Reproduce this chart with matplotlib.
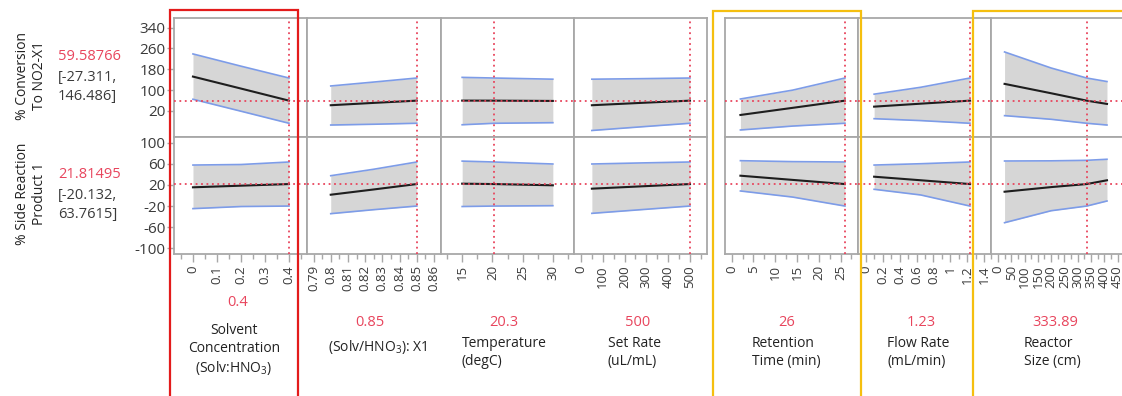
import matplotlib.pyplot as plt
from matplotlib.patches import Rectangle
from matplotlib.ticker import FixedLocator, MultipleLocator


W, H = 1122, 396

RED = '#e8455d'
DARK = '#3a3a3a'
GRID = '#a8a8a8'
BAND = '#d6d6d6'
BLUE = '#7d9ce8'

factor_labels = ['Solvent\nConcentration\n(Solv:HNO$_\\mathregular{3}$)',
                 '(Solv/HNO$_\\mathregular{3}$): X1',
                 'Temperature\n(degC)',
                 'Set Rate\n(uL/mL)',
                 'Retention\nTime (min)',
                 'Flow Rate\n(mL/min)',
                 'Reactor\nSize (cm)']
current = [0.4, 0.85, 20.3, 500, 26, 1.23, 333.89]
current_text = ['0.4', '0.85', '20.3', '500', '26', '1.23', '333.89']

x_limits = [(-0.079, 0.475), (0.7862, 0.8641), (11.5, 33.5), (-32, 578),
            (-1.54, 29.0), (-0.09, 1.478), (-26, 474)]
tick_values = [[0, 0.1, 0.2, 0.3, 0.4],
               [0.79, 0.8, 0.81, 0.82, 0.83, 0.84, 0.85, 0.86],
               [15, 20, 25, 30],
               [0, 100, 200, 300, 400, 500],
               [0, 5, 10, 15, 20, 25],
               [0, 0.2, 0.4, 0.6, 0.8, 1, 1.2, 1.4],
               [0, 50, 100, 150, 200, 250, 300, 350, 400, 450]]
minor_step = [0.05, 0.005, 2.5, 50, 2.5, 0.1, 25]

# profile points, one list per factor
factor_x = [[0, 0.2, 0.4],
            [0.80, 0.825, 0.85],
            [15, 20.3, 30],
            [50, 275, 500],
            [2, 14, 26],
            [0.1, 0.65, 1.23],
            [25, 200, 333.89, 410]]

conv_mean = [[152, 106, 59.6], [42, 51, 59.6], [59.8, 59.6, 58.5], [42, 51, 59.6],
             [4.6, 32, 59.6], [36.6, 48, 59.6], [124, 88, 59.6, 47]]
conv_upper = [[239, 192, 146.5], [116, 131, 146.5], [149, 146.5, 142], [142, 144, 146.5],
              [66, 100, 146.5], [84.5, 111, 146.5], [246.6, 185, 146.5, 133]]
conv_lower = [[65, 19, -27.3], [-34, -31, -27.3], [-33, -27.3, -25], [-55, -41, -27.3],
              [-53, -38, -27.3], [-9.7, -17, -27.3], [2, -12, -27.3, -34]]

side_mean = [[15.6, 18.7, 21.8], [1.5, 11.5, 21.8], [22.5, 21.8, 19.4], [13, 17.4, 21.8],
             [37.7, 29.7, 21.8], [35.8, 29, 21.8], [7.2, 16, 21.8, 29]]
side_upper = [[58, 59, 63.8], [37.7, 50, 63.8], [65.5, 63.8, 60], [60, 62, 63.8],
              [66.3, 64.5, 63.8], [58, 60.5, 63.8], [65.7, 66, 67, 69]]
side_lower = [[-25, -21, -20.1], [-34.6, -27, -20.1], [-21, -20.1, -19.4], [-34, -27, -20.1],
              [8.6, -3, -20.1], [11.8, 1, -20.1], [-51.8, -29, -20.1, -10.5]]

responses = ['% Conversion\nTo NO2-X1', '% Side Reaction\nProduct 1']
resp_value = [59.58766, 21.81495]
resp_text = ['59.58766', '21.81495']
resp_ci = ['[-27.311,\n146.486]', '[-20.132,\n63.7615]']
y_limits = [(-80, 377), (-111.4, 111.4)]
y_ticks = [[20, 100, 180, 260, 340], [-100, -60, -20, 20, 60, 100]]

plt.rcParams['font.family'] = ['Open Sans', 'DejaVu Sans']

fig = plt.figure(figsize=(W / 100, H / 100), dpi=100)

panel_px = [(174, 307), (307, 441), (441, 574), (574, 707),
            (725, 858), (858, 991), (991, 1124)]
row_px = [(18, 137), (137, 254)]


def px_axes(x0, x1, y0, y1):
    return fig.add_axes([x0 / W, 1 - y1 / H, (x1 - x0) / W, (y1 - y0) / H])


data_rows = [(conv_mean, conv_lower, conv_upper), (side_mean, side_lower, side_upper)]

for r, (y0, y1) in enumerate(row_px):
    mean, lower, upper = data_rows[r]
    for i, (x0, x1) in enumerate(panel_px):
        ax = px_axes(x0, x1, y0, y1)
        xs = factor_x[i]
        ax.fill_between(xs, lower[i], upper[i], color=BAND, lw=0, zorder=1)
        ax.plot(xs, upper[i], color=BLUE, lw=1.2, zorder=2)
        ax.plot(xs, lower[i], color=BLUE, lw=1.2, zorder=2)
        ax.plot(xs, mean[i], color='#1e1e1e', lw=1.5, zorder=3)
        ax.axvline(current[i], color=RED, lw=1.3, ls=(0, (1, 2)), zorder=4)
        ax.axhline(resp_value[r], color=RED, lw=1.3, ls=(0, (1, 2)), zorder=4)
        ax.set_xlim(*x_limits[i])
        ax.set_ylim(*y_limits[r])
        for s in ax.spines.values():
            s.set_color(GRID)
            s.set_linewidth(1.3)
        ax.tick_params(colors=GRID, labelcolor=DARK)
        if i == 0:
            ax.yaxis.set_major_locator(FixedLocator(y_ticks[r]))
            ax.set_yticklabels([str(v) for v in y_ticks[r]], fontsize=11)
            ax.tick_params(axis='y', length=5, width=1, pad=1)
        else:
            ax.set_yticks([])
        if r == 1:
            ax.xaxis.set_major_locator(FixedLocator(tick_values[i]))
            ax.xaxis.set_minor_locator(MultipleLocator(minor_step[i]))
            ax.set_xticklabels([f'{v:g}' for v in tick_values[i]],
                               rotation=90, fontsize=9.5)
            ax.tick_params(axis='x', which='major', length=6, width=1, pad=2)
            ax.tick_params(axis='x', which='minor', length=3.5, width=1, colors=GRID)
        else:
            ax.set_xticks([])

# response labels on the left
for r, (y0, y1) in enumerate(row_px):
    yc = 1 - (y0 + y1) / 2 / H
    fig.text(31 / W, yc + 0.005, responses[r], rotation=90, ha='center', va='center',
             fontsize=10, color='#222222', linespacing=1.15)
top_text = [57, 175]
for r in range(2):
    fig.text(58 / W, 1 - top_text[r] / H, resp_text[r], ha='left', va='center',
             fontsize=10.5, color=RED)
    fig.text(58 / W, 1 - (top_text[r] + 30) / H, resp_ci[r], ha='left', va='center',
             fontsize=10.5, color=DARK, linespacing=1.3)

# factor values and names under the panels
value_x = [238, 370, 504, 638, 787, 921, 1055]
label_x = [234, 378, 462, 608, 752, 887, 1024]
for i in range(len(panel_px)):
    vy = 303 if i == 0 else 322
    fig.text(value_x[i] / W, 1 - vy / H, current_text[i], ha='center', va='center',
             fontsize=10.5, color=RED)
    if i == 0:
        fig.text(label_x[i] / W, 1 - 323 / H, factor_labels[i], ha='center', va='top',
                 fontsize=10, color='#222222', multialignment='center', linespacing=1.25)
    elif i == 1:
        fig.text(label_x[i] / W, 1 - 338 / H, factor_labels[i], ha='center', va='top',
                 fontsize=10, color='#222222')
    else:
        fig.text(label_x[i] / W, 1 - 336 / H, factor_labels[i], ha='left', va='top',
                 fontsize=10, color='#222222', multialignment='left', linespacing=1.25)

# highlight boxes
boxes = [(170, 298, 10, '#e31b1b'), (713, 861, 11, '#f5bf0f'), (973, 1130, 11, '#f5bf0f')]
for x0, x1, yt, col in boxes:
    fig.add_artist(Rectangle((x0 / W, -0.05), (x1 - x0) / W, 1.05 - yt / H,
                             transform=fig.transFigure, fill=False, edgecolor=col,
                             lw=1.6, clip_on=False, zorder=10))

fig.savefig('out.png', dpi=100)
